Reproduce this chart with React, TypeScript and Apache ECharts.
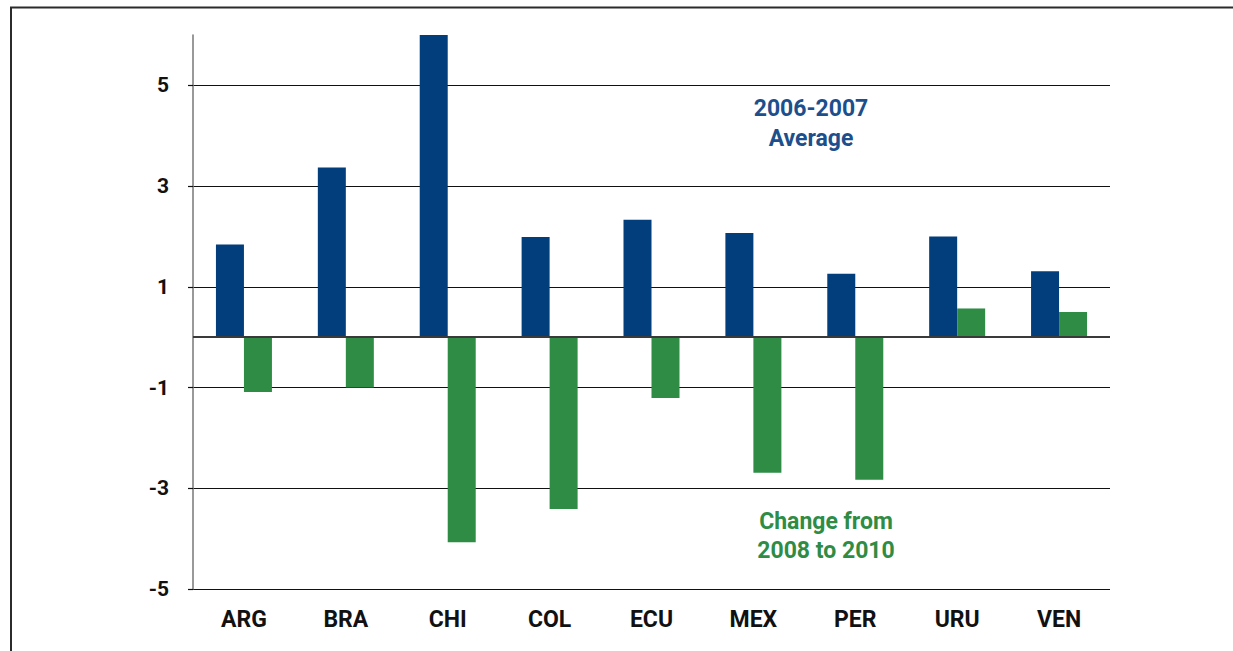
import React, { useEffect, useRef } from "react";
import * as echarts from "echarts";

const categories = ["ARG", "BRA", "CHI", "COL", "ECU", "MEX", "PER", "URU", "VEN"];
const average2006to2007 = [1.84, 3.37, 6.0, 1.99, 2.33, 2.07, 1.26, 2.0, 1.31];
const change2008to2010 = [-1.09, -1.0, -4.07, -3.41, -1.21, -2.69, -2.83, 0.57, 0.5];
const yTicks = [-5, -3, -1, 1, 3, 5];
const yMin = -5;
const yMax = 6;

const BLUE = "#023e7b";
const GREEN = "#2f8c45";
const FONT = "Roboto, 'Liberation Sans', sans-serif";

export default function App() {
  const ref = useRef<HTMLDivElement>(null);
  useEffect(() => {
    if (!ref.current) return;
    const chart = echarts.init(ref.current, null, { renderer: "svg" });
    chart.setOption({
      animation: false,
      backgroundColor: "#ffffff",
      grid: { left: 193, right: 123, top: 35, bottom: 62, containLabel: false },
      xAxis: {
        type: "category",
        data: categories,
        position: "bottom",
        axisLine: { show: false, onZero: false },
        axisTick: { show: false },
        axisLabel: {
          margin: 19,
          fontFamily: FONT,
          fontWeight: "bold",
          fontSize: 23,
          color: "#111",
        },
        splitLine: { show: false },
      },
      yAxis: {
        type: "value",
        min: yMin,
        max: yMax,
        axisLine: { show: true, lineStyle: { color: "#777", width: 1.5 } },
        axisTick: {
          show: true,
          length: 5,
          customValues: yTicks,
          lineStyle: { color: "#111", width: 1.2 },
        },
        axisLabel: {
          customValues: yTicks,
          margin: 24,
          fontFamily: FONT,
          fontWeight: "bold",
          fontSize: 21,
          color: "#111",
        },
        splitLine: { show: true, lineStyle: { color: "#111", width: 1.2 } },
      },
      series: [
        {
          name: "2006-2007 Average",
          type: "bar",
          data: average2006to2007,
          barWidth: 28,
          barGap: "0%",
          itemStyle: { color: BLUE },
        },
        {
          name: "Change from 2008 to 2010",
          type: "bar",
          data: change2008to2010,
          barWidth: 28,
          barGap: "0%",
          itemStyle: { color: GREEN },
          markLine: {
            silent: true,
            symbol: "none",
            label: { show: false },
            lineStyle: { color: "#3a3a3a", width: 2, type: "solid" },
            data: [{ yAxis: 0 }],
          },
        },
      ],
      graphic: [
        {
          type: "rect",
          shape: { x: 11, y: 7.5, width: 1400, height: 800 },
          style: { fill: "none", stroke: "#2b2b2b", lineWidth: 2 },
          silent: true,
        },
        {
          type: "text",
          x: 811,
          y: 93,
          style: {
            text: "2006-2007\nAverage",
            align: "center",
            verticalAlign: "top",
            fill: "#1c4f8c",
            font: `bold 23px ${FONT}`,
            lineHeight: 30,
          },
        },
        {
          type: "text",
          x: 826,
          y: 507,
          style: {
            text: "Change from\n2008 to 2010",
            align: "center",
            verticalAlign: "top",
            fill: "#2f8c45",
            font: `bold 23px ${FONT}`,
            lineHeight: 29,
          },
        },
      ],
    });
    return () => chart.dispose();
  }, []);
  return (
    <div
      ref={ref}
      style={{ position: "fixed", left: 0, top: 0, width: 1233, height: 651 }}
    />
  );
}
